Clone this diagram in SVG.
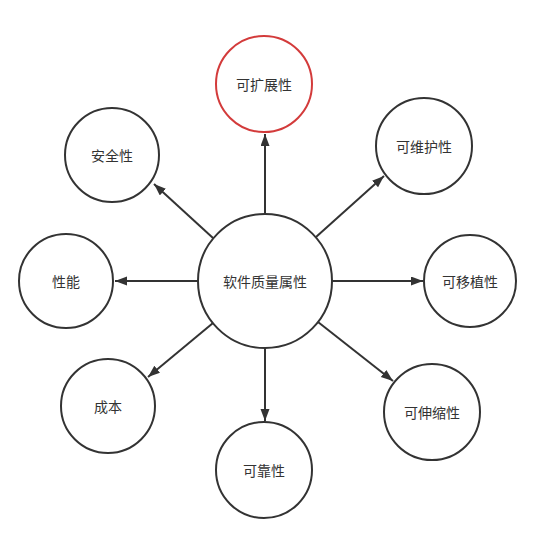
<svg xmlns="http://www.w3.org/2000/svg" width="558" height="533" viewBox="0 0 558 533">
<style>
.n{fill:#fff;stroke:#333;stroke-width:2}
.r{stroke:#d33b3b}
.t{font-family:"Noto Sans CJK SC","Liberation Sans",sans-serif;font-size:14px;fill:#333;text-anchor:middle;dominant-baseline:central}
.c{stroke:#333;stroke-width:2;fill:none;marker-end:url(#a)}
</style>
<defs>
<marker id="a" markerUnits="userSpaceOnUse" markerWidth="13" markerHeight="10" refX="12" refY="4.5" orient="auto">
<path d="M0,0 L12,4.5 L0,9 z" fill="#333"/>
</marker>
</defs>
<rect width="558" height="533" fill="#fff"/>
<g id="connectors">
<line class="c" x1="265" y1="214" x2="265" y2="134"/>
<line class="c" x1="213" y1="238" x2="154" y2="184"/>
<line class="c" x1="316" y1="237" x2="384" y2="176"/>
<line class="c" x1="198" y1="281" x2="115" y2="281"/>
<line class="c" x1="332" y1="281" x2="423" y2="281"/>
<line class="c" x1="213" y1="323" x2="148" y2="377"/>
<line class="c" x1="318" y1="322" x2="393" y2="381"/>
<line class="c" x1="265" y1="348" x2="265" y2="421"/>
</g>
<g id="center"><circle class="n" cx="265" cy="281" r="67"/><text class="t" x="265" y="281">软件质量属性</text></g>
<g id="kuozhan"><circle class="n r" cx="264" cy="84" r="48"/><text class="t" x="264" y="84">可扩展性</text></g>
<g id="anquan"><circle class="n" cx="112" cy="155" r="47"/><text class="t" x="112" y="155">安全性</text></g>
<g id="weihu"><circle class="n" cx="424" cy="146" r="48"/><text class="t" x="424" y="146">可维护性</text></g>
<g id="xingneng"><circle class="n" cx="66" cy="281" r="47"/><text class="t" x="66" y="281">性能</text></g>
<g id="yizhi"><circle class="n" cx="470" cy="281" r="46"/><text class="t" x="470" y="281">可移植性</text></g>
<g id="chengben"><circle class="n" cx="108" cy="406" r="47"/><text class="t" x="108" y="406">成本</text></g>
<g id="shensuo"><circle class="n" cx="432" cy="412" r="48"/><text class="t" x="432" y="412">可伸缩性</text></g>
<g id="kekao"><circle class="n" cx="264" cy="470" r="48"/><text class="t" x="264" y="470">可靠性</text></g>
</svg>
